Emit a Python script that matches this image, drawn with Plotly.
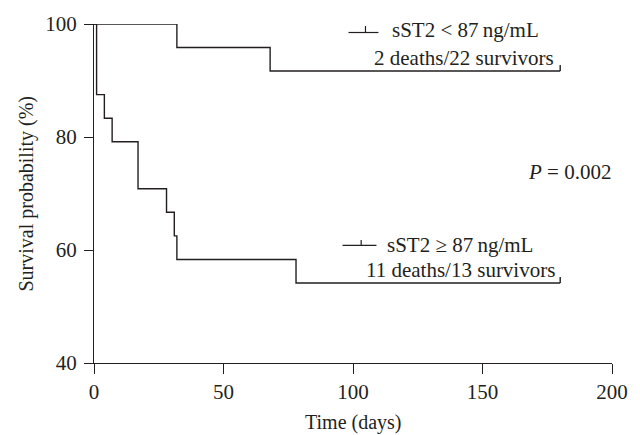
import plotly.graph_objects as go

# ---- data ----
low_days = [0, 32, 68, 180]
low_surv = [100, 95.83, 91.67, 91.67]
high_days = [0, 1, 4, 7, 17, 28, 31, 32, 78, 180]
high_surv = [100, 87.5, 83.33, 79.17, 70.83, 66.67, 62.5, 58.33, 54.17, 54.17]
censor_low_days = [180]
censor_low_surv = [91.67]
censor_high_days = [180]
censor_high_surv = [54.17]
x_ticks = [0, 50, 100, 150, 200]
y_ticks = [40, 60, 80, 100]

INK = "#231f20"
FONT = "Liberation Serif"
FS = 21
FS_TITLE = 20

W, H = 640, 435
L, R, T, B = 94, 27, 16, 72
PW, PH = W - L - R, H - T - B
XMIN, XMAX, YMIN, YMAX = 0, 200, 40, 100


def dx(px):
    return XMIN + (px - L) / PW * (XMAX - XMIN)


def dy(py):
    return YMAX - (py - T) / PH * (YMAX - YMIN)


fig = go.Figure()
for d, s in [(low_days, low_surv), (high_days, high_surv)]:
    fig.add_trace(go.Scatter(x=d, y=s, mode="lines", line=dict(shape="hv", color=INK, width=1.4),
                             showlegend=False, hoverinfo="skip"))

shapes = []
# censor ticks (upward)
for cd, cs in [(censor_low_days, censor_low_surv), (censor_high_days, censor_high_surv)]:
    for t, s in zip(cd, cs):
        shapes.append(dict(type="line", xref="x", yref="y", x0=t, x1=t, ysizemode="pixel",
                           yanchor=s, y0=0, y1=6, line=dict(color=INK, width=1.4)))

# legend-like symbols
def legend_symbol(x0, x1, xt, yl, yt):
    shapes.append(dict(type="line", xref="x", yref="y", x0=dx(x0), x1=dx(x1), y0=dy(yl), y1=dy(yl),
                       line=dict(color=INK, width=1.2)))
    shapes.append(dict(type="line", xref="x", yref="y", x0=dx(xt), x1=dx(xt), y0=dy(yl), y1=dy(yt),
                       line=dict(color=INK, width=1.2)))

legend_symbol(349, 379, 366, 24.7, 18)
legend_symbol(343, 377, 361.7, 242.7, 237)

ann = []
def text(t, px, py, anchor):
    ann.append(dict(text=t, x=dx(px), y=dy(py), xref="x", yref="y", xanchor=anchor, yanchor="middle",
                    showarrow=False, font=dict(family=FONT, size=FS, color=INK)))

text("sST2 &lt; 87\u2009ng/mL", 391, 22, "left")
text("2 deaths/22 survivors", 557, 51, "right")
text("sST2 \u2265 87\u2009ng/mL", 386, 241.7, "left")
text("11 deaths/13 survivors", 558, 268, "right")
text("<i>P</i> = 0.002", 527, 167, "left")

ann.append(dict(text="Time (days)", xref="paper", yref="paper", x=0.5, y=0, xanchor="center",
                yanchor="middle", yshift=-59, showarrow=False,
                font=dict(family=FONT, size=FS_TITLE, color=INK)))
ann.append(dict(text="Survival probability (%)", xref="paper", yref="paper", x=0, y=0.5,
                xanchor="center", yanchor="middle", xshift=-68, textangle=-90, showarrow=False,
                font=dict(family=FONT, size=FS_TITLE, color=INK)))

fig.update_layout(
    width=W, height=H, margin=dict(l=L, r=R, t=T, b=B),
    paper_bgcolor="white", plot_bgcolor="white",
    font=dict(family=FONT, size=FS, color=INK),
    shapes=shapes, annotations=ann,
    xaxis=dict(range=[XMIN, XMAX], tickvals=x_ticks, ticks="outside", ticklen=10, tickwidth=1.2,
               tickcolor=INK, showline=True, linecolor=INK, linewidth=1.2, showgrid=False,
               zeroline=False, tickfont=dict(family=FONT, size=FS, color=INK)),
    yaxis=dict(range=[YMIN, YMAX], tickvals=y_ticks, ticks="outside", ticklen=9, tickwidth=1.2,
               tickcolor=INK, showline=True, linecolor=INK, linewidth=1.2, showgrid=False,
               zeroline=False, ticklabelstandoff=3, tickfont=dict(family=FONT, size=FS, color=INK)),
)
fig.write_html("out.html")
